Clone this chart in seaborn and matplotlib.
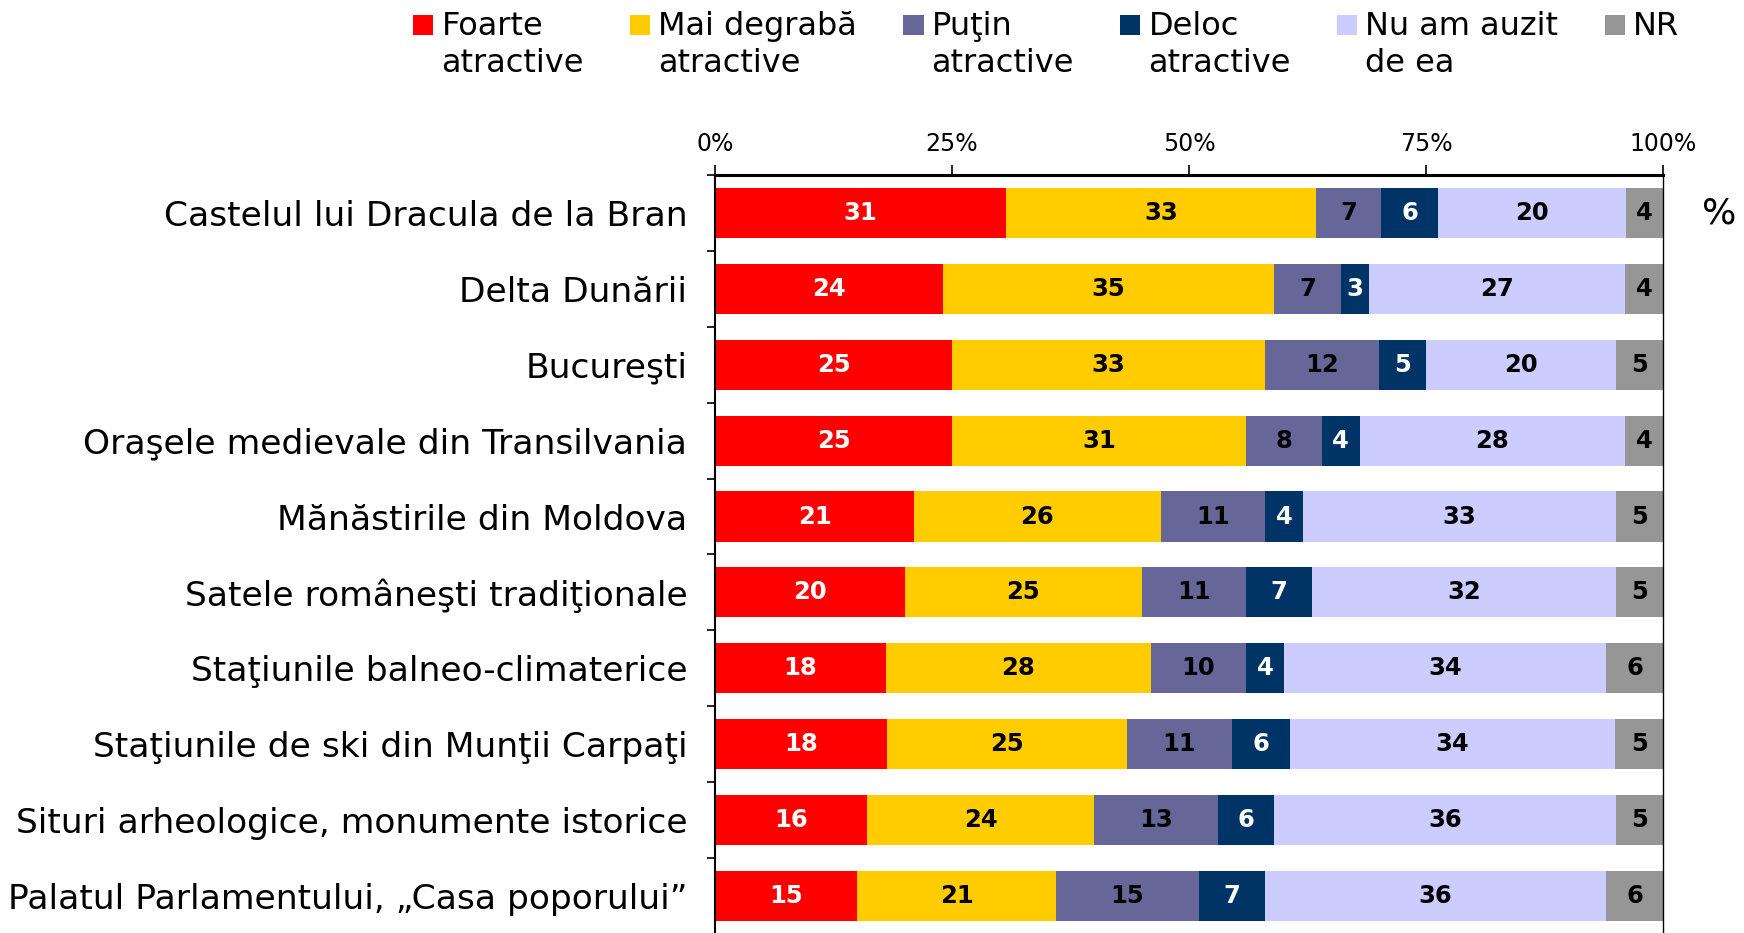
import numpy as np
import pandas as pd
import matplotlib
matplotlib.use("Agg")
import matplotlib.pyplot as plt
from matplotlib.patches import Patch, Rectangle
from matplotlib.legend_handler import HandlerPatch
import seaborn as sns

categories = [
    "Castelul lui Dracula de la Bran",
    "Delta Dunării",
    "Bucureşti",
    "Oraşele medievale din Transilvania",
    "Mănăstirile din Moldova",
    "Satele româneşti tradiţionale",
    "Staţiunile balneo-climaterice",
    "Staţiunile de ski din Munţii Carpaţi",
    "Situri arheologice, monumente istorice",
    "Palatul Parlamentului, „Casa poporului”",
]

series_names = [
    "Foarte\natractive",
    "Mai degrabă\natractive",
    "Puţin\natractive",
    "Deloc\natractive",
    "Nu am auzit\nde ea",
    "NR\n ",
]

foarte = [31, 24, 25, 25, 21, 20, 18, 18, 16, 15]
mai_degraba = [33, 35, 33, 31, 26, 25, 28, 25, 24, 21]
putin = [7, 7, 12, 8, 11, 11, 10, 11, 13, 15]
deloc = [6, 3, 5, 4, 4, 7, 4, 6, 6, 7]
nu_am_auzit = [20, 27, 20, 28, 33, 32, 34, 34, 36, 36]
nr = [4, 4, 5, 4, 5, 5, 6, 5, 5, 6]

colors = ["#FF0000", "#FFCC00", "#666699", "#003366", "#CCCCFF", "#969696"]
label_colors = ["white", "black", "black", "white", "black", "black"]

tick_values = [0, 25, 50, 75, 100]
tick_labels = ["0%", "25%", "50%", "75%", "100%"]

values = np.array([foarte, mai_degraba, putin, deloc, nu_am_auzit, nr], dtype=float).T
# each row is shown as a share of its own total (100% stacked bars)
shares = values / values.sum(axis=1, keepdims=True) * 100
cum = np.cumsum(shares, axis=1)

sns.set_theme(style="white")
plt.rcParams["font.family"] = ["DejaVu Sans"]
plt.rcParams.update({
    "text.color": "black",
    "axes.labelcolor": "black",
    "xtick.color": "black",
    "ytick.color": "black",
    "axes.edgecolor": "black",
})

fig = plt.figure(figsize=(17.44, 9.33), dpi=100)
ax = fig.add_axes([0.41, -0.001, 0.5436, 0.8134])

# stack by drawing cumulative totals from the outermost segment inwards
for k in range(len(series_names) - 1, -1, -1):
    df = pd.DataFrame({"category": categories, "value": cum[:, k]})
    sns.barplot(data=df, x="value", y="category", orient="h", color=colors[k],
                saturation=1, width=0.66, linewidth=0, ax=ax)

for i in range(len(categories)):
    for k in range(len(series_names)):
        center = cum[i, k] - shares[i, k] / 2
        ax.text(center, i, f"{int(values[i, k])}", ha="center", va="center",
                fontsize=17.5, fontweight="bold", color=label_colors[k])

ax.set_xlim(0, 100)
ax.set_ylim(len(categories) - 0.5, -0.5)
ax.set_xlabel("")
ax.set_ylabel("")

ax.xaxis.tick_top()
ax.set_xticks(tick_values)
ax.set_xticklabels(tick_labels, fontsize=17)
ax.tick_params(axis="x", which="major", direction="out", length=7, width=1.2,
               pad=7, colors="black", top=True, bottom=False)

ax.set_yticks(range(len(categories)))
ax.set_yticklabels(categories, fontsize=24.8, color="black")
ax.tick_params(axis="y", which="major", length=0, pad=20)
ax.set_yticks(np.arange(-0.5, len(categories), 1.0), minor=True)
ax.tick_params(axis="y", which="minor", direction="out", length=6, width=1.2,
               left=True, colors="black")

for side in ["top", "left", "right"]:
    ax.spines[side].set_visible(True)
    ax.spines[side].set_color("black")
ax.spines["top"].set_linewidth(2.2)
ax.spines["left"].set_linewidth(1.5)
ax.spines["right"].set_linewidth(1.0)
ax.spines["bottom"].set_visible(False)
ax.grid(False)

fig.text(0.986, 1 - 213 / 933, "%", ha="center", va="center", fontsize=26,
         color="black")


class TopSquareHandler(HandlerPatch):
    def create_artists(self, legend, orig_handle, xdescent, ydescent, width,
                       height, fontsize, trans):
        size = fontsize * 0.63
        rect = Rectangle((-xdescent, -ydescent + height - size + fontsize * 0.16),
                         size, size, facecolor=orig_handle.get_facecolor(),
                         edgecolor="none", transform=trans)
        return [rect]


handles = [Patch(facecolor=c) for c in colors]
leg = fig.legend(handles, series_names, loc="upper left",
                 bbox_to_anchor=(0.226, 1.009), ncol=6, frameon=False,
                 fontsize=23, handlelength=0.63, handleheight=2.2,
                 handletextpad=0.25, columnspacing=1.45, borderpad=0.1,
                 labelspacing=0.2, labelcolor="black",
                 handler_map={Patch: TopSquareHandler()})
for t in leg.get_texts():
    t.set_linespacing(1.28)

fig.savefig("out.png", dpi=100)
